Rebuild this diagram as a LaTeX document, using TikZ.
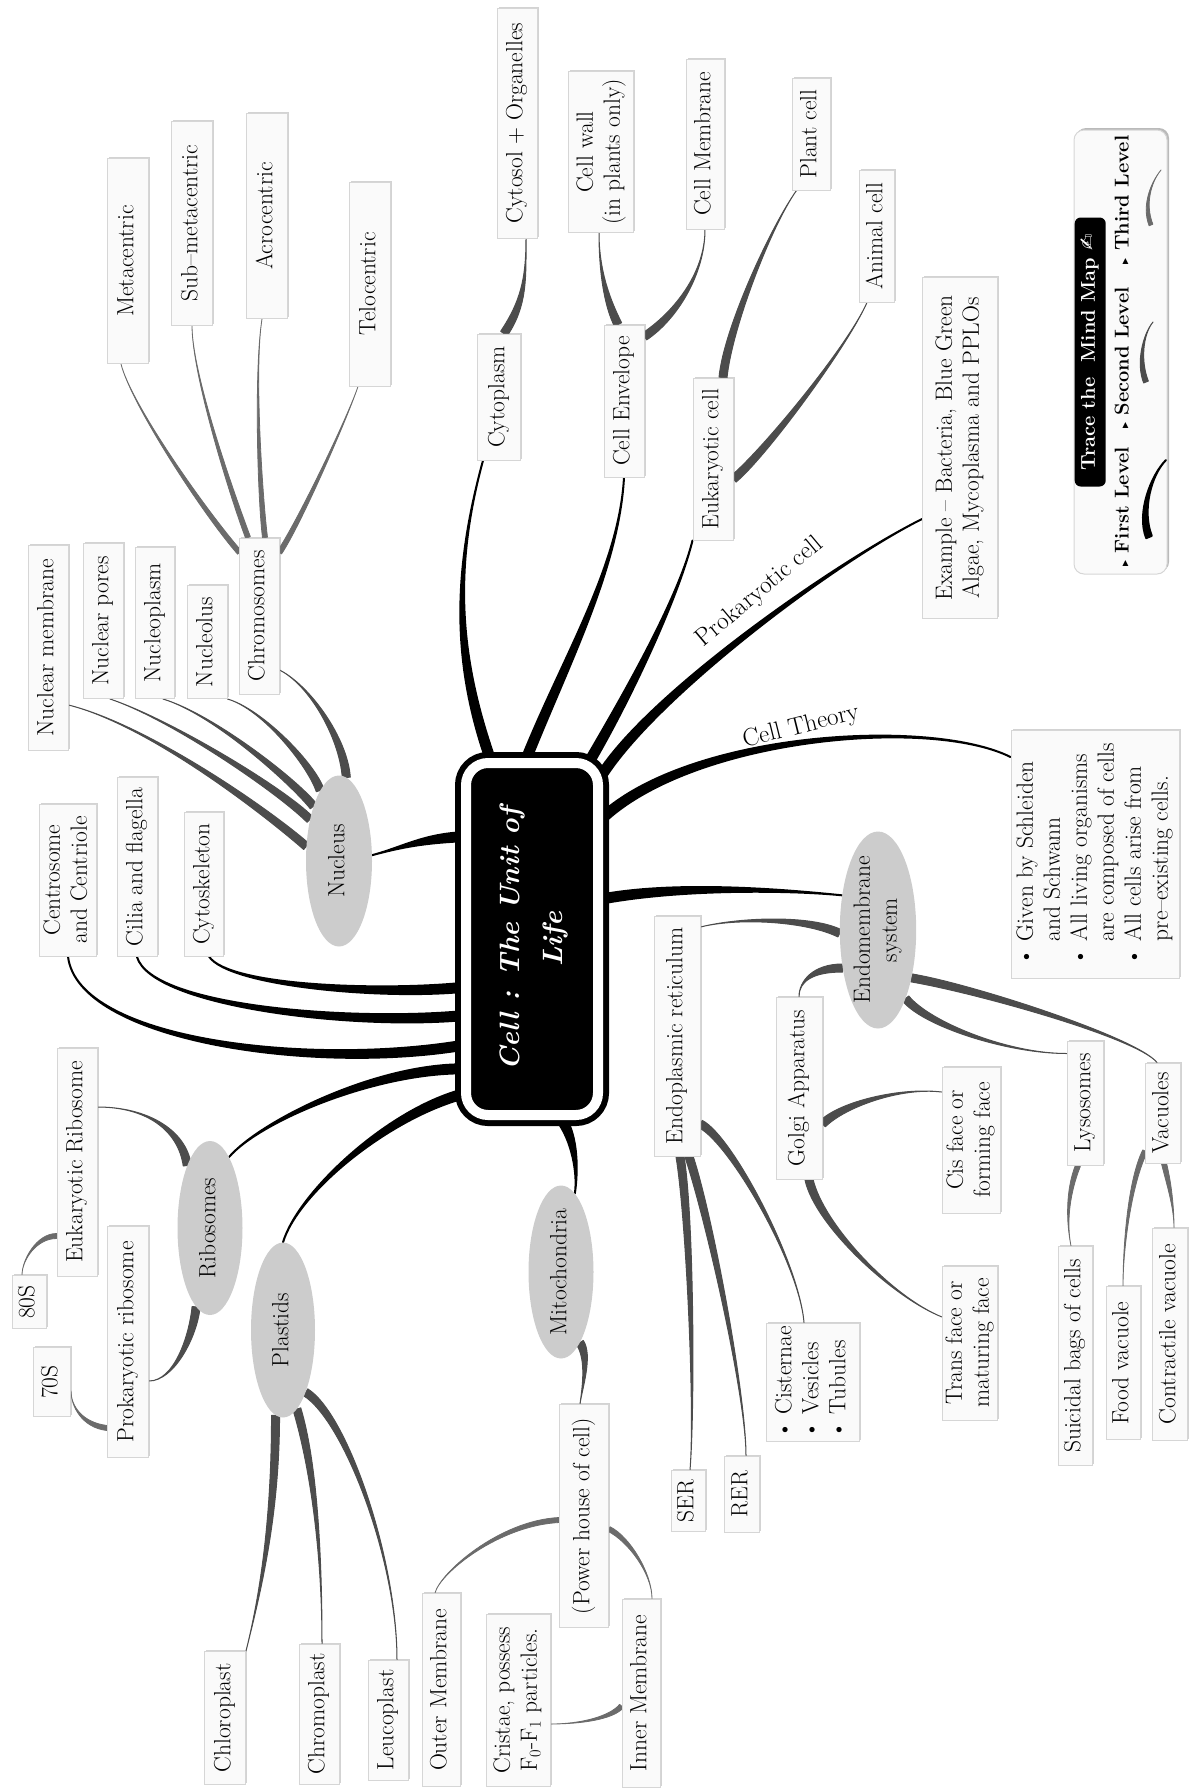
\documentclass[tikz,border=0pt]{standalone}
\usepackage{fontspec}
\usepackage{graphicx}
\newfontfamily\symf{DejaVu Sans}
\usetikzlibrary{calc,shapes.geometric,shadows,backgrounds}

\newcommand{\leaffont}{\fontsize{23.5pt}{27pt}\selectfont}
\newcommand{\titlefont}{\fontsize{28pt}{43pt}\selectfont\bfseries\itshape}
\newcommand{\legendfont}{\fontsize{20pt}{23pt}\selectfont\bfseries}
% text turned to read upwards
\newcommand{\vt}[2][c]{\raisebox{-.5\height}[0pt][0pt]{\rotatebox{90}{\begin{tabular}{@{}#1@{}}#2\end{tabular}}}}
% tapered branch: [style]{half width}{parent}{out offset}{in offset}{child}
\newcommand{\twig}[6][lvltwo]{%
  \path (#3) coordinate (tw-s) ++(#4) coordinate (tw-a);
  \path (#6) coordinate (tw-e) ++(#5) coordinate (tw-b);
  \filldraw[#1] ($(tw-s)!#2!90:(tw-a)$) .. controls ($(tw-a)!#2!-90:(tw-s)$) and (tw-b) .. (tw-e)
    .. controls (tw-b) and ($(tw-a)!#2!90:(tw-s)$) .. ($(tw-s)!#2!-90:(tw-a)$) -- cycle;}

\begin{document}
\begin{tikzpicture}[x=1pt,y=-1pt,
  boxsize/.style 2 args={minimum width=#1pt,minimum height=#2pt},
  leaf/.style={rectangle,fill=white!98!black,draw=black!16,line width=1pt,inner sep=0pt,font=\leaffont,
    drop shadow={shadow xshift=1.5pt,shadow yshift=1.5pt,opacity=.35,fill=black!50}},
  hub/.style={ellipse,fill=black!20,inner sep=0pt,font=\leaffont},
  lvlone/.style={fill=black,draw=black,line width=2pt,line join=round},
  lvltwo/.style={fill=black!70,draw=black!70,line width=1pt,line join=round},
  lvlthree/.style={fill=black!58,draw=black!58,line width=.8pt,line join=round},
  tag/.style={font=\fontsize{25pt}{28pt}\selectfont,inner sep=0pt}]
\useasboundingbox (0,0) rectangle (1191,1788);

% centre
\node[draw=black,line width=6pt,double=white,double distance=10pt,fill=black,
  rounded corners=22pt,boxsize={132}{352},text=white,font=\titlefont] (main) at (532,939)
  {\vt{Cell : The Unit of\\Life}};

% nucleus and chromosomes
\node[hub,boxsize={66}{171}] (nuc) at (339,861) {\vt{Nucleus}};
\node[leaf,boxsize={40}{205}] (numem) at (48,648) {\vt{Nuclear membrane}};
\node[leaf,boxsize={40}{155}] (nupore) at (103,621) {\vt{Nuclear pores}};
\node[leaf,boxsize={39}{151}] (nuplasm) at (155,623) {\vt{Nucleoplasm}};
\node[leaf,boxsize={40}{113}] (nucleolus) at (207,642) {\vt{Nucleolus}};
\node[leaf,boxsize={40}{156}] (chromo) at (259,616) {\vt{Chromosomes}};
\node[leaf,boxsize={41}{205}] (meta) at (128,261) {\vt{Metacentric}};
\node[leaf,boxsize={41}{204}] (submeta) at (192,223) {\vt{Sub–metacentric}};
\node[leaf,boxsize={41}{205}] (acro) at (267,216) {\vt{Acrocentric}};
\node[leaf,boxsize={41}{204}] (telo) at (370,284) {\vt{Telocentric}};

% top branches
\node[leaf,boxsize={43}{126}] (cytopl) at (499,397) {\vt{Cytoplasm}};
\node[leaf,boxsize={40}{230}] (cytosol) at (517,123) {\vt{Cytosol + Organelles}};
\node[leaf,boxsize={40}{152}] (envel) at (624,401) {\vt{Cell Envelope}};
\node[leaf,boxsize={65}{161}] (wall) at (601,152) {\vt{Cell wall\\(in plants only)}};
\node[leaf,boxsize={38}{170}] (cmem) at (705,144) {\vt{Cell Membrane}};
\node[leaf,boxsize={40}{162}] (eukcell) at (713,459) {\vt{Eukaryotic cell}};
\node[leaf,boxsize={38}{112}] (plant) at (811,134) {\vt{Plant cell}};
\node[leaf,boxsize={35}{132}] (animal) at (877,236) {\vt{Animal cell}};
\node[leaf,boxsize={75}{341}] (example) at (960,448)
  {\vt{Example – Bacteria, Blue Green\\Algae, Mycoplasma and PPLOs}};
\node[leaf,boxsize={168}{248}] (ctheory) at (1095,854)
  {\vt[l@{\hspace{7pt}}l]{\textbullet & Given by Schleiden\\ & and Schwann\\
    \textbullet & All living organisms\\ & are composed of cells\\
    \textbullet & All cells arise from\\ & pre–existing cells.}};
\node[tag,rotate=40] (prok) at (760,592) {Prokaryotic cell};
\node[tag,rotate=14] (theory) at (801,727) {Cell Theory};

% left branches
\node[leaf,boxsize={57}{152}] (centro) at (68,880) {\vt{Centrosome\\and Centriole}};
\node[leaf,boxsize={40}{179}] (cilia) at (137,867) {\vt{Cilia and flagella}};
\node[leaf,boxsize={39}{144}] (cytosk) at (204,884) {\vt{Cytoskeleton}};
\node[hub,boxsize={65}{174}] (ribo) at (210,1228) {\vt{Ribosomes}};
\node[leaf,boxsize={40}{228}] (eukribo) at (77,1162) {\vt{Eukaryotic Ribosome}};
\node[leaf,boxsize={34}{53}] (s80) at (29,1302) {\vt{80S}};
\node[leaf,boxsize={41}{231}] (prokribo) at (128,1342) {\vt{Prokaryotic ribosome}};
\node[leaf,boxsize={37}{69}] (s70) at (52,1382) {\vt{70S}};
\node[hub,boxsize={64}{175}] (plast) at (283,1330) {\vt{Plastids}};
\node[leaf,boxsize={41}{133}] (chloro) at (225,1718) {\vt{Chloroplast}};
\node[leaf,boxsize={40}{140}] (chromopl) at (319,1714) {\vt{Chromoplast}};
\node[leaf,boxsize={40}{120}] (leuco) at (388,1720) {\vt{Leucoplast}};

% mitochondria
\node[hub,boxsize={65}{173}] (mito) at (561,1272) {\vt{Mitochondria}};
\node[leaf,boxsize={49}{223}] (power) at (584,1516) {\vt{(Power house of cell)}};
\node[leaf,boxsize={38}{193}] (outer) at (441,1690) {\vt{Outer Membrane}};
\node[leaf,boxsize={64}{172}] (cristae) at (518,1700)
  {\vt{Cristae, possess\\F\textsubscript{0}-F\textsubscript{1} particles.}};
\node[leaf,boxsize={38}{188}] (inner) at (641,1693) {\vt{Inner Membrane}};

% endomembrane system
\node[hub,boxsize={72}{197}] (endo) at (878,930) {\vt{Endomembrane\\system}};
\node[leaf,boxsize={46}{240}] (er) at (677,1036) {\vt{Endoplasmic reticulum}};
\node[leaf,boxsize={34}{61}] (ser) at (688,1501) {\vt{SER}};
\node[leaf,boxsize={35}{76}] (rer) at (742,1494) {\vt{RER}};
\node[leaf,boxsize={93}{118}] (cister) at (813,1382)
  {\vt[l]{\textbullet\ Cisternae\\\textbullet\ Vesicles\\\textbullet\ Tubules}};
\node[leaf,boxsize={46}{182}] (golgi) at (799,1088) {\vt{Golgi Apparatus}};
\node[leaf,boxsize={58}{146}] (cis) at (971,1140) {\vt{Cis face or\\forming face}};
\node[leaf,boxsize={55}{154}] (trans) at (970,1343) {\vt{Trans face or\\maturing face}};
\node[leaf,boxsize={36}{124}] (lyso) at (1085,1103) {\vt{Lysosomes}};
\node[leaf,boxsize={34}{219}] (suicid) at (1075,1356) {\vt{Suicidal bags of cells}};
\node[leaf,boxsize={35}{100}] (vacu) at (1163,1113) {\vt{Vacuoles}};
\node[leaf,boxsize={34}{153}] (food) at (1123,1363) {\vt{Food vacuole}};
\node[leaf,boxsize={35}{212}] (contr) at (1170,1334) {\vt{Contractile vacuole}};

\begin{scope}[on background layer]
% first level
\twig[lvlone]{4.5pt}{main.103}{-35,-100}{-30,110}{$(cytopl.south)+(-16,0)$}
\twig[lvlone]{4.5pt}{main.92}{40,-100}{-5,90}{envel.south}
\twig[lvlone]{4.5pt}{main.72}{35,-60}{-15,60}{eukcell.south west}
\twig[lvlone]{4.5pt}{main.67}{50,-80}{-90,45}{$(example.west)+(0,71)$}
\twig[lvlone]{4.5pt}{main.60}{90,-85}{-80,-40}{$(ctheory.west)+(0,-97)$}
\twig[lvlone]{4.5pt}{main.30}{80,-15}{-50,-5}{endo.136}
\twig[lvlone]{4.5pt}{main.-81}{15,20}{3,-20}{mito.80}
\twig[lvlone]{4.5pt}{main.246}{-75,20}{15,-50}{plast.north}
\twig[lvlone]{4.5pt}{main.242}{-90,0}{30,-35}{ribo.75}
\twig[lvlone]{4.5pt}{main.237}{-150,25}{10,85}{centro.south}
\twig[lvlone]{4.5pt}{main.228}{-110,10}{15,50}{cilia.south}
\twig[lvlone]{4.5pt}{main.215}{-80,8}{20,30}{$(cytosk.south)+(5,0)$}
\twig[lvlone]{4.5pt}{main.124}{-40,2}{30,-8}{nuc.10}
% second level
\twig{4pt}{$(cytopl.north)+(5,0)$}{20,-30}{0,40}{$(cytosol.south)+(9,0)$}
\twig{4pt}{$(envel.north)+(-6,0)$}{-10,-20}{0,40}{$(wall.south)+(-2,0)$}
\twig{4pt}{$(envel.north east)+(0,12)$}{30,-20}{0,45}{cmem.south}
\twig{4pt}{$(eukcell.north)+(10,0)$}{5,-50}{-25,35}{$(plant.south west)+(5,0)$}
\twig{4pt}{$(eukcell.east)+(0,20)$}{30,-25}{-20,45}{$(animal.south west)+(8,0)$}
\twig{4pt}{nuc.156}{-40,-35}{80,20}{$(numem.east)+(0,57)$}
\twig{4pt}{nuc.125}{-30,-30}{60,20}{$(nupore.south)+(7,0)$}
\twig{4pt}{nuc.115}{-20,-25}{50,15}{$(nuplasm.south)+(8,0)$}
\twig{4pt}{nuc.105}{-8,-25}{35,10}{nucleolus.south east}
\twig{4pt}{nuc.85}{-3,-40}{30,15}{$(chromo.east)+(0,54)$}
\twig{4pt}{ribo.110}{-5,-35}{50,0}{$(eukribo.east)+(0,-55)$}
\twig{4pt}{ribo.-100}{-3,30}{25,0}{$(prokribo.east)+(0,39)$}
\twig{4pt}{plast.-95}{0,100}{15,-60}{chloro.north east}
\twig{4pt}{plast.-80}{15,50}{0,-100}{$(chromopl.north)+(3,0)$}
\twig{4pt}{plast.-70}{40,25}{0,-100}{$(leuco.north)+(9,0)$}
\twig{4pt}{mito.-75}{10,15}{2,-15}{$(power.north)+(-4,0)$}
\twig{4pt}{$(er.south)+(3,0)$}{10,60}{5,-60}{$(ser.north)+(2,0)$}
\twig{4pt}{$(er.south)+(12,0)$}{20,60}{0,-60}{$(rer.north)+(4,0)$}
\twig{4pt}{$(er.east)+(0,88)$}{30,15}{-5,-60}{$(cister.north)+(-9,0)$}
\twig{4pt}{endo.185}{-30,-15}{40,-10}{$(er.east)+(0,-109)$}
\twig{4pt}{endo.227}{-30,0}{0,-15}{golgi.north}
\twig{4pt}{endo.-68}{20,25}{-60,0}{$(lyso.north west)+(0,13)$}
\twig{4pt}{endo.-55}{60,10}{-20,-25}{$(vacu.north)+(-6,0)$}
\twig{4pt}{$(golgi.east)+(0,36)$}{20,-20}{-40,-5}{$(cis.west)+(0,-48)$}
\twig{4pt}{$(golgi.south)+(10,0)$}{10,45}{-50,-20}{$(trans.west)+(0,-26)$}
% third level
\twig[lvlthree]{2.5pt}{$(chromo.north west)+(1,15)$}{-35,-40}{10,40}{$(meta.south)+(-7,0)$}
\twig[lvlthree]{2.5pt}{$(chromo.north)+(-11,0)$}{-15,-40}{0,50}{submeta.south}
\twig[lvlthree]{2.5pt}{$(chromo.north)+(6,0)$}{-5,-40}{-8,50}{$(acro.south)+(-5,0)$}
\twig[lvlthree]{2.5pt}{$(chromo.north east)+(0,15)$}{20,-30}{-10,30}{$(telo.south)+(-12,0)$}
\twig[lvlthree]{2.5pt}{$(eukribo.west)+(0,74)$}{-20,0}{0,-15}{$(s80.north)+(-7,0)$}
\twig[lvlthree]{2.5pt}{$(prokribo.west)+(0,86)$}{-25,-3}{0,15}{$(s70.east)+(0,9)$}
\twig[lvlthree]{2.5pt}{$(power.west)+(0,4)$}{-60,3}{5,-20}{$(outer.north)+(-6,0)$}
\twig[lvlthree]{2.5pt}{$(power.east)+(0,13)$}{20,10}{0,-25}{$(inner.north)+(11,0)$}
\twig[lvlthree]{2.5pt}{$(inner.west)+(0,13)$}{-10,12}{30,0}{$(cristae.east)+(0,24)$}
\twig[lvlthree]{2.5pt}{$(lyso.south)+(-7,0)$}{-10,25}{-5,-25}{$(suicid.north)+(-4,0)$}
\twig[lvlthree]{2.5pt}{$(vacu.west)+(0,38)$}{-15,30}{0,-40}{food.north}
\twig[lvlthree]{2.5pt}{$(vacu.south)+(1,0)$}{5,20}{0,-20}{$(contr.north)+(4,0)$}
\end{scope}

% legend
\node[fill=white!98!black,draw=black!16,line width=1pt,rounded corners=10pt,boxsize={93}{444},
  drop shadow={shadow xshift=2pt,shadow yshift=2pt,opacity=.45,fill=black!60}] (legend) at (1120.5,352) {};
\node[fill=black,text=white,rounded corners=6pt,inner sep=0pt,boxsize={31}{269},anchor=west,
  font=\fontsize{20pt}{23pt}\selectfont\bfseries] (ltitle) at ($(legend.west)+(1,0)$)
  {\vt{Trace the\ \ Mind Map {\symf ✍}}};
\node[font=\legendfont,inner sep=0pt] (lv1) at (1124,507) {\vt{{\symf\fontsize{12pt}{14pt}\selectfont ▸}\ First Level}};
\node[font=\legendfont,inner sep=0pt] (lv2) at (1124,358) {\vt{{\symf\fontsize{12pt}{14pt}\selectfont ▸}\ Second Level}};
\node[font=\legendfont,inner sep=0pt] (lv3) at (1124,200) {\vt{{\symf\fontsize{12pt}{14pt}\selectfont ▸}\ Third Level}};
\twig[lvlone]{3pt}{1149,537}{-10,-25}{-15,15}{1166,460}
\twig[lvltwo]{2.5pt}{1146,382}{-8,-20}{-10,12}{1153,322}
\twig[lvlthree]{2pt}{1151,225}{-8,-20}{-10,12}{1161,170}
\end{tikzpicture}
\end{document}
